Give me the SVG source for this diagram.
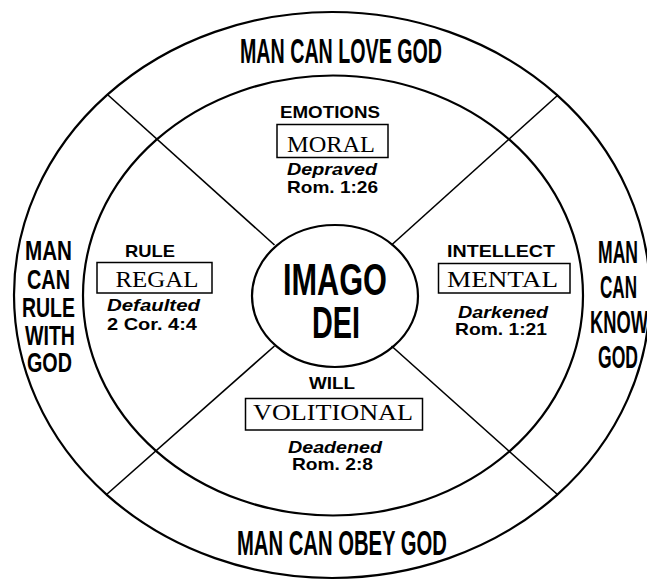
<svg xmlns="http://www.w3.org/2000/svg" width="647" height="581" viewBox="0 0 647 581">
<style>
.ring{fill:none;stroke:#000;stroke-width:2.2}
.ln{fill:none;stroke:#000;stroke-width:1.6}
.box{fill:#fff;stroke:#000;stroke-width:1.5}
.big{font-family:"Liberation Sans Narrow","Liberation Sans",Arial,sans-serif;font-weight:bold;fill:#000;text-anchor:middle}
.ser{font-family:"Liberation Serif","Times New Roman",serif;fill:#000;text-anchor:middle}
.sm{font-family:"Liberation Sans",Arial,sans-serif;font-weight:bold;fill:#000;text-anchor:middle;font-size:17px}
.it{font-style:italic}
</style>
<rect width="647" height="581" fill="#fff"/>
<g id="rings">
<ellipse class="ring" cx="332" cy="295" rx="318" ry="283"/>
<ellipse class="ring" cx="333" cy="295.5" rx="250" ry="220"/>
</g>
<g id="connectors">
<line class="ln" x1="108" y1="95" x2="274.5" y2="245"/>
<line class="ln" x1="558" y1="95" x2="391.5" y2="245"/>
<line class="ln" x1="106" y1="495" x2="274.5" y2="346"/>
<line class="ln" x1="558" y1="495" x2="391.5" y2="346"/>
</g>
<g id="love">
<text class="big" x="341" y="63" font-size="35" textLength="202" lengthAdjust="spacingAndGlyphs">MAN CAN LOVE GOD</text>
</g>
<g id="obey">
<text class="big" x="342" y="555" font-size="35" textLength="210" lengthAdjust="spacingAndGlyphs">MAN CAN OBEY GOD</text>
</g>
<g id="rule-with">
<text class="big" font-size="28" x="48.5" y="260" textLength="47" lengthAdjust="spacingAndGlyphs">MAN</text>
<text class="big" font-size="28" x="48.5" y="289" textLength="43" lengthAdjust="spacingAndGlyphs">CAN</text>
<text class="big" font-size="28" x="48.5" y="317" textLength="53" lengthAdjust="spacingAndGlyphs">RULE</text>
<text class="big" font-size="28" x="50" y="345" textLength="50" lengthAdjust="spacingAndGlyphs">WITH</text>
<text class="big" font-size="28" x="49.5" y="372" textLength="45" lengthAdjust="spacingAndGlyphs">GOD</text>
</g>
<g id="know">
<text class="big" font-size="32" x="618" y="263" textLength="40" lengthAdjust="spacingAndGlyphs">MAN</text>
<text class="big" font-size="32" x="618.5" y="298" textLength="37" lengthAdjust="spacingAndGlyphs">CAN</text>
<text class="big" font-size="32" x="619" y="333" textLength="58" lengthAdjust="spacingAndGlyphs">KNOW</text>
<text class="big" font-size="32" x="618" y="368" textLength="40" lengthAdjust="spacingAndGlyphs">GOD</text>
</g>
<g id="imago">
<ellipse class="ring" cx="335" cy="296" rx="83" ry="71"/>
<text class="big" font-size="44" x="335" y="295" textLength="104" lengthAdjust="spacingAndGlyphs">IMAGO</text>
<text class="big" font-size="44" x="336" y="338" textLength="48" lengthAdjust="spacingAndGlyphs">DEI</text>
</g>
<g id="moral">
<text class="sm" x="330" y="118" textLength="100" lengthAdjust="spacingAndGlyphs">EMOTIONS</text>
<rect class="box" x="277" y="124.5" width="111" height="33"/>
<text class="ser" font-size="24" x="331" y="152" textLength="88" lengthAdjust="spacingAndGlyphs">MORAL</text>
<text class="sm it" x="332" y="175" textLength="90" lengthAdjust="spacingAndGlyphs">Depraved</text>
<text class="sm" x="332.5" y="193" textLength="91" lengthAdjust="spacingAndGlyphs">Rom. 1:26</text>
</g>
<g id="regal">
<text class="sm" x="150" y="257" textLength="50" lengthAdjust="spacingAndGlyphs">RULE</text>
<rect class="box" x="97" y="262.5" width="115" height="30.5"/>
<text class="ser" font-size="22.5" x="157" y="287" textLength="83" lengthAdjust="spacingAndGlyphs">REGAL</text>
<text class="sm it" x="153.5" y="311" textLength="93" lengthAdjust="spacingAndGlyphs">Defaulted</text>
<text class="sm" x="152" y="330" textLength="90" lengthAdjust="spacingAndGlyphs">2 Cor. 4:4</text>
</g>
<g id="mental">
<text class="sm" x="501" y="257" textLength="108" lengthAdjust="spacingAndGlyphs">INTELLECT</text>
<rect class="box" x="438.5" y="263.5" width="131.5" height="29.5"/>
<text class="ser" font-size="22.5" x="502.5" y="287" textLength="111" lengthAdjust="spacingAndGlyphs">MENTAL</text>
<text class="sm it" x="503" y="318" textLength="90" lengthAdjust="spacingAndGlyphs">Darkened</text>
<text class="sm" x="501" y="335" textLength="92" lengthAdjust="spacingAndGlyphs">Rom. 1:21</text>
</g>
<g id="volitional">
<text class="sm" x="332" y="389" textLength="46" lengthAdjust="spacingAndGlyphs">WILL</text>
<rect class="box" x="245.5" y="398.5" width="177" height="31.5"/>
<text class="ser" font-size="22.5" x="333" y="420" textLength="160" lengthAdjust="spacingAndGlyphs">VOLITIONAL</text>
<text class="sm it" x="335" y="453" textLength="94" lengthAdjust="spacingAndGlyphs">Deadened</text>
<text class="sm" x="332.5" y="470" textLength="81" lengthAdjust="spacingAndGlyphs">Rom. 2:8</text>
</g>
</svg>
